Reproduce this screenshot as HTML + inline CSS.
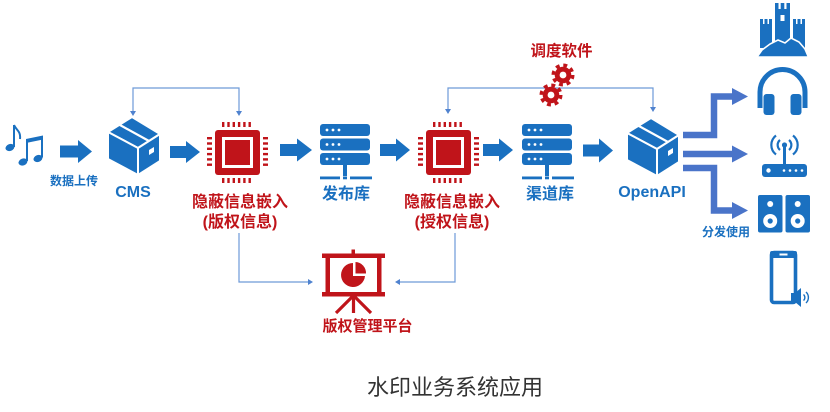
<!DOCTYPE html>
<html><head><meta charset="utf-8"><style>
html,body{margin:0;padding:0;background:#fff;}
svg{display:block;}
text{font-family:"Liberation Sans","Noto Sans CJK SC",sans-serif;}
</style></head><body>
<svg width="830" height="412" viewBox="0 0 830 412" xmlns="http://www.w3.org/2000/svg">
<defs>
<g id="cube">
  <polygon points="24,0 52,17 30,31 0,15" fill="#1a70c0" stroke="#fff" stroke-width="2" stroke-linejoin="round"/>
  <polygon points="0,15 30,31 30,58 0,42" fill="#1a70c0" stroke="#fff" stroke-width="2" stroke-linejoin="round"/>
  <polygon points="30,31 52,17 52,44 30,58" fill="#1a70c0" stroke="#fff" stroke-width="2" stroke-linejoin="round"/>
  <line x1="11" y1="7.5" x2="41" y2="24" stroke="#fff" stroke-width="2.2"/>
  <polygon points="41,33 46,30 46,35 41,38" fill="#fff"/>
</g>
<g id="chip">
  <rect x="8" y="8" width="45" height="45" rx="3" fill="#c0141a"/>
  <rect x="16.5" y="16.5" width="28" height="28" fill="none" stroke="#fff" stroke-width="3"/>
  <g fill="#c0141a">
    <rect x="15" y="0" width="2.4" height="5"/><rect x="20.3" y="0" width="2.4" height="5"/><rect x="25.6" y="0" width="2.4" height="5"/><rect x="30.9" y="0" width="2.4" height="5"/><rect x="36.2" y="0" width="2.4" height="5"/><rect x="41.5" y="0" width="2.4" height="5"/>
    <rect x="15" y="56" width="2.4" height="5"/><rect x="20.3" y="56" width="2.4" height="5"/><rect x="25.6" y="56" width="2.4" height="5"/><rect x="30.9" y="56" width="2.4" height="5"/><rect x="36.2" y="56" width="2.4" height="5"/><rect x="41.5" y="56" width="2.4" height="5"/>
    <rect x="0" y="15" width="5" height="2.4"/><rect x="0" y="20.3" width="5" height="2.4"/><rect x="0" y="25.6" width="5" height="2.4"/><rect x="0" y="30.9" width="5" height="2.4"/><rect x="0" y="36.2" width="5" height="2.4"/><rect x="0" y="41.5" width="5" height="2.4"/>
    <rect x="56" y="15" width="5" height="2.4"/><rect x="56" y="20.3" width="5" height="2.4"/><rect x="56" y="25.6" width="5" height="2.4"/><rect x="56" y="30.9" width="5" height="2.4"/><rect x="56" y="36.2" width="5" height="2.4"/><rect x="56" y="41.5" width="5" height="2.4"/>
  </g>
</g>
<g id="server">
  <rect x="0" y="0" width="50" height="12" rx="3" fill="#1a70c0"/>
  <rect x="0" y="14.5" width="50" height="12" rx="3" fill="#1a70c0"/>
  <rect x="0" y="29" width="50" height="12" rx="3" fill="#1a70c0"/>
  <g fill="#fff">
    <circle cx="7" cy="6" r="1.4"/><circle cx="13" cy="6" r="1.4"/><circle cx="19" cy="6" r="1.4"/>
    <circle cx="7" cy="20.5" r="1.4"/><circle cx="13" cy="20.5" r="1.4"/><circle cx="19" cy="20.5" r="1.4"/>
    <circle cx="7" cy="35" r="1.4"/><circle cx="13" cy="35" r="1.4"/><circle cx="19" cy="35" r="1.4"/>
  </g>
  <rect x="23" y="41" width="4" height="11" fill="#1a70c0"/>
  <rect x="0" y="52.5" width="20" height="2.8" fill="#1a70c0"/>
  <rect x="23" y="52.5" width="4" height="2.8" fill="#1a70c0"/>
  <rect x="30" y="52.5" width="22" height="2.8" fill="#1a70c0"/>
</g>
<g id="gear">
  <circle r="9.8" fill="none" stroke="#c0141a" stroke-width="3.4" stroke-dasharray="3.9 3.8"/>
  <circle r="8.3" fill="#c0141a"/>
  <circle r="3.4" fill="#fff"/>
</g>
</defs>

<!-- music notes -->
<g fill="#1a70c0" stroke="#1a70c0">
  <ellipse cx="10" cy="147.5" rx="4.6" ry="3.4" transform="rotate(-20 10 147.5)" stroke="none"/>
  <line x1="14" y1="125" x2="14" y2="147" stroke-width="2"/>
  <path d="M14,125 C16,130 21,131 20,139" fill="none" stroke-width="2"/>
  <ellipse cx="23" cy="162" rx="4.6" ry="3.4" transform="rotate(-20 23 162)" stroke="none"/>
  <ellipse cx="38" cy="158.5" rx="4.6" ry="3.4" transform="rotate(-20 38 158.5)" stroke="none"/>
  <line x1="27" y1="140" x2="27" y2="161" stroke-width="2"/>
  <line x1="42" y1="137" x2="42" y2="157.5" stroke-width="2"/>
  <polygon points="26,139 43,135.5 43,139.5 26,143" stroke="none"/>
</g>

<!-- thick arrows -->
<g fill="#1a70c0">
  <polygon points="60,145.5 78,145.5 78,140 92,151.5 78,163 78,157.5 60,157.5"/>
  <polygon points="170,146 186,146 186,141 200,152 186,163 186,158 170,158"/>
  <polygon points="280,144 297,144 297,138.5 312,150 297,161.5 297,156 280,156"/>
  <polygon points="380,144 396,144 396,138.5 410,150 396,161.5 396,156 380,156"/>
  <polygon points="483,144 499,144 499,138.5 513,150 499,161.5 499,156 483,156"/>
  <polygon points="583,144.5 599,144.5 599,138.5 613,150.5 599,162.5 599,156.5 583,156.5"/>
</g>

<!-- thin connectors -->
<g fill="none" stroke="#6d9ad8" stroke-width="1.2">
  <polyline points="133,112 133,88 239,88 239,112"/>
  <polyline points="448,110 448,88 653,88 653,108"/>
  <polyline points="239,233 239,282 309,282"/>
  <polyline points="455,233 455,282 399,282"/>
</g>
<g fill="#4f82cf">
  <polygon points="130,111 136,111 133,116"/>
  <polygon points="236,111 242,111 239,116"/>
  <polygon points="445,109 451,109 448,114"/>
  <polygon points="650,107 656,107 653,112"/>
  <polygon points="308,279 308,285 313,282"/>
  <polygon points="400,279 400,285 395,282"/>
</g>

<!-- icons -->
<use href="#cube" x="108" y="117"/>
<use href="#chip" x="207" y="122"/>
<use href="#server" x="320" y="124"/>
<use href="#chip" x="418" y="122"/>
<use href="#server" x="522" y="124"/>
<use href="#cube" x="627" y="118"/>

<use href="#gear" x="563" y="75"/>
<use href="#gear" x="551" y="95"/>

<!-- presentation board -->
<g fill="#c0141a">
  <rect x="351.5" y="249.5" width="3.5" height="5"/>
  <rect x="322" y="253.5" width="63" height="4.5"/>
  <rect x="325.5" y="257" width="4.5" height="36"/>
  <rect x="377" y="257" width="4.5" height="36"/>
  <rect x="322" y="292" width="63" height="4.5"/>
  <path d="M353,263 A12,12 0 1 0 365,276 L353,276 Z"/>
  <path d="M355.5,262 A11,11 0 0 1 366,273.5 L355.5,273.5 Z"/>
</g>
<g stroke="#c0141a" stroke-width="3.2" stroke-linecap="butt">
  <line x1="353.5" y1="296" x2="353.5" y2="313"/>
  <line x1="353" y1="296" x2="336" y2="313"/>
  <line x1="354" y1="296" x2="371" y2="313"/>
</g>

<!-- fan-out arrows -->
<g fill="none" stroke="#4a74c9" stroke-width="6.5">
  <polyline points="683,135 714,135 714,96.5 735,96.5"/>
  <line x1="683" y1="154" x2="735" y2="154"/>
  <polyline points="683,168 714,168 714,210.5 735,210.5"/>
</g>
<g fill="#4a74c9">
  <polygon points="732,88 748,96.5 732,105"/>
  <polygon points="732,145.5 748,154 732,162.5"/>
  <polygon points="732,202 748,210.5 732,219"/>
</g>

<!-- castle -->
<g fill="#1a70c0" transform="translate(757,3)">
  <rect x="18" y="6" width="15" height="38"/>
  <rect x="18" y="0" width="3.5" height="7"/><rect x="23.7" y="0" width="3.6" height="7"/><rect x="29.5" y="0" width="3.5" height="7"/>
  <rect x="3" y="21" width="12" height="24"/>
  <rect x="3" y="16" width="3" height="6"/><rect x="7.5" y="16" width="3" height="6"/><rect x="12" y="16" width="3" height="6"/>
  <rect x="36" y="21" width="12" height="24"/>
  <rect x="36" y="16" width="3" height="6"/><rect x="40.5" y="16" width="3" height="6"/><rect x="45" y="16" width="3" height="6"/>
  <rect x="23.5" y="12" width="4" height="6" fill="#fff"/>
  <path d="M0,54 L5,47 L13,41 L21,37 L28,40 L34,35 L42,39 L48,46 L51,53 L51,54 Z" stroke="#fff" stroke-width="1.6"/>
</g>

<!-- headphones -->
<g fill="#1a70c0">
  <path d="M760,108 L760,92 A22.5,22.5 0 0 1 805,92 L805,108" fill="none" stroke="#1a70c0" stroke-width="5"/>
  <rect x="763.5" y="94" width="11" height="21" rx="3"/>
  <rect x="790.5" y="94" width="11" height="21" rx="3"/>
</g>

<!-- router -->
<g>
  <rect x="762" y="164" width="45" height="13" rx="3" fill="#1a70c0"/>
  <circle cx="768.5" cy="170.5" r="2.2" fill="#fff"/>
  <circle cx="784" cy="170.5" r="1.3" fill="#fff"/><circle cx="790" cy="170.5" r="1.3" fill="#fff"/><circle cx="796" cy="170.5" r="1.3" fill="#fff"/><circle cx="802" cy="170.5" r="1.3" fill="#fff"/>
  <line x1="784.5" y1="145" x2="784.5" y2="164" stroke="#1a70c0" stroke-width="3"/>
  <circle cx="784.5" cy="145" r="2.6" fill="#1a70c0"/>
  <g fill="none" stroke="#1a70c0" stroke-width="2.2">
    <path d="M780,140 A6.5,6.5 0 0 0 780,150"/>
    <path d="M789,140 A6.5,6.5 0 0 1 789,150"/>
    <path d="M776,135.5 A12,12 0 0 0 776,154.5"/>
    <path d="M793,135.5 A12,12 0 0 1 793,154.5"/>
  </g>
</g>

<!-- speakers -->
<g>
  <rect x="758" y="195" width="24.5" height="37.5" rx="2" fill="#1a70c0"/>
  <rect x="785.5" y="195" width="24.5" height="37.5" rx="2" fill="#1a70c0"/>
  <circle cx="770.2" cy="204" r="3" fill="#fff"/>
  <circle cx="797.7" cy="204" r="3" fill="#fff"/>
  <circle cx="770.2" cy="221" r="7" fill="#fff"/>
  <circle cx="797.7" cy="221" r="7" fill="#fff"/>
  <circle cx="770.2" cy="221" r="2.6" fill="#1a70c0"/>
  <circle cx="797.7" cy="221" r="2.6" fill="#1a70c0"/>
</g>

<!-- phone -->
<g>
  <rect x="771.5" y="252.5" width="24" height="50" rx="2.5" fill="none" stroke="#1a70c0" stroke-width="3.6"/>
  <rect x="770" y="251" width="27" height="7" rx="2" fill="#1a70c0"/>
  <rect x="779.5" y="253.5" width="8" height="2" fill="#fff"/>
  <rect x="791" y="293" width="5" height="9" fill="#1a70c0"/>
  <polygon points="795,293 801,288 801,307 795,302" fill="#1a70c0"/>
  <path d="M803.5,294.5 A4,4 0 0 1 803.5,300.5" fill="none" stroke="#1a70c0" stroke-width="1.4"/>
  <path d="M806,292 A7.5,7.5 0 0 1 806,303" fill="none" stroke="#1a70c0" stroke-width="1.4"/>
</g>

<!-- labels -->
<g font-weight="bold" text-anchor="middle">
  <text x="74" y="185" font-size="12" fill="#1a70c0">数据上传</text>
  <text x="133" y="197" font-size="16" fill="#1a70c0">CMS</text>
  <text x="240" y="207" font-size="16" fill="#c0141a">隐蔽信息嵌入</text>
  <text x="240" y="227" font-size="16" fill="#c0141a">(版权信息)</text>
  <text x="346" y="199" font-size="16" fill="#1a70c0">发布库</text>
  <text x="452" y="207" font-size="16" fill="#c0141a">隐蔽信息嵌入</text>
  <text x="452" y="227" font-size="16" fill="#c0141a">(授权信息)</text>
  <text x="550" y="199" font-size="16" fill="#1a70c0">渠道库</text>
  <text x="561.5" y="56" font-size="15.5" fill="#c0141a">调度软件</text>
  <text x="652" y="197" font-size="16" fill="#1a70c0">OpenAPI</text>
  <text x="726" y="236" font-size="12" fill="#1a70c0">分发使用</text>
  <text x="367.5" y="331" font-size="15" fill="#c0141a">版权管理平台</text>
</g>
<text x="455" y="395" font-size="22" fill="#333" text-anchor="middle">水印业务系统应用</text>
</svg>
</body></html>
